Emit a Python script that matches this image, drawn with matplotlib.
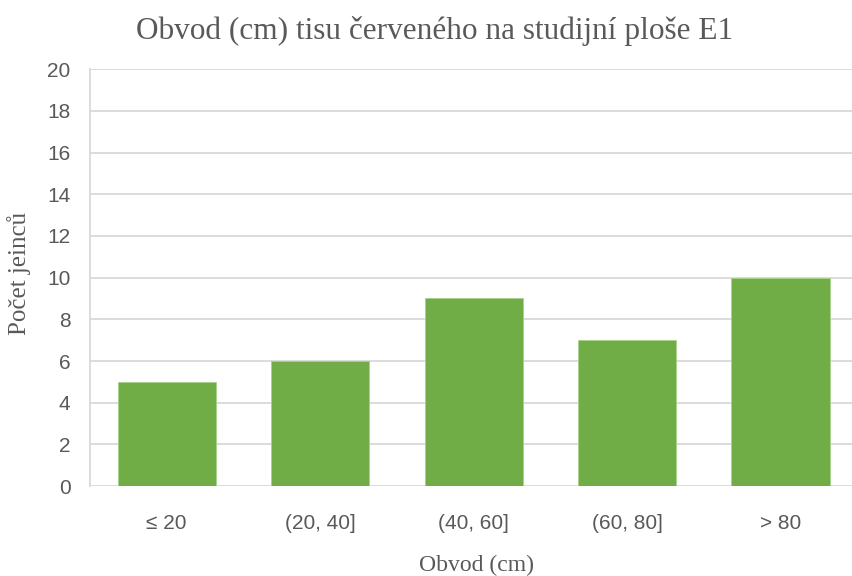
import numpy as np
import matplotlib.pyplot as plt

# Data
categories = ["≤ 20", "(20, 40]", "(40, 60]", "(60, 80]", "> 80"]
counts = [5, 6, 9, 7, 10]

fig = plt.figure(figsize=(8.53, 5.76), dpi=100)
ax = fig.add_axes([0.1055, 0.156, 0.8995, 0.724])

x = np.arange(len(categories))
ax.bar(x, counts, width=0.64, color="#70AD47", edgecolor="#A9D18E", linewidth=0.6, zorder=3)

ax.set_xlim(-0.5, 4.5)
ax.set_ylim(0, 20)
ax.set_yticks(np.arange(0, 21, 2))
ax.set_xticks(x)
ax.set_xticklabels(categories)

ax.grid(axis="y", color="#D9D9D9", linewidth=1.3, zorder=0)
for s in ["top", "right", "bottom"]:
    ax.spines[s].set_visible(False)
ax.spines["left"].set_color("#D9D9D9")
ax.spines["left"].set_linewidth(1.3)
ax.tick_params(length=0, labelsize=15, labelcolor="#595959")
ax.tick_params(axis="y", pad=14)
ax.tick_params(axis="x", pad=20)
for lbl in ax.get_xticklabels() + ax.get_yticklabels():
    lbl.set_family("Liberation Sans")

serif = {"family": "Liberation Serif", "color": "#595959"}
fig.text(0.509, 0.946, "Obvod (cm) tisu červeného na studijní ploše E1",
         ha="center", va="center", fontsize=22.5, **serif)
fig.text(0.559, 0.019, "Obvod (cm)", ha="center", va="center", fontsize=17, **serif)
fig.text(0.022, 0.526, "Počet jeinců", ha="center", va="center", rotation=90, fontsize=18, **serif)

fig.savefig("out.png", dpi=100)
